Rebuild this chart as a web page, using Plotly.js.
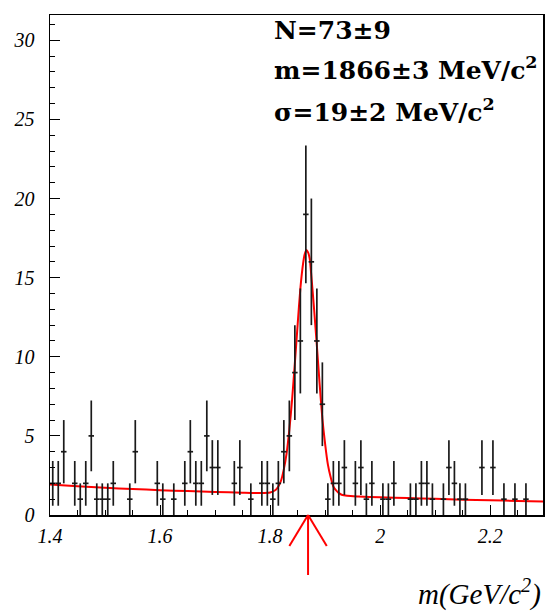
<!DOCTYPE html>
<html>
<head>
<meta charset="utf-8">
<script src="https://cdn.plot.ly/plotly-3.0.1.min.js"></script>
<style>html,body{margin:0;padding:0;background:#fff;}#chart{width:545px;height:612px;}</style>
</head>
<body>
<div id="chart"></div>
<script>
// Bin centres (GeV/c^2) of non-empty bins and their counts
const massBins = [1.405,1.415,1.425,1.445,1.455,1.465,1.475,1.485,1.495,1.505,1.515,
  1.545,1.555,1.595,1.605,1.625,1.645,1.655,1.665,1.675,1.685,1.695,1.705,
  1.735,1.745,1.765,1.785,1.795,1.805,1.815,1.825,1.835,1.845,1.855,1.865,
  1.875,1.885,1.895,1.905,1.915,1.925,1.935,1.955,1.965,1.975,1.985,
  2.005,2.015,2.025,2.055,2.065,2.075,2.085,2.095,2.115,2.125,2.135,2.145,
  2.155,2.185,2.205,2.225,2.245,2.265];
const counts = [2,2,4,2,1,2,5,1,1,1,2,
  1,4,2,1,1,2,4,2,2,5,3,3,
  2,3,1,2,2,1,2,4,5,9,11,19,
  16,11,7,1,2,2,3,2,3,1,2,
  1,1,2,1,1,2,2,1,1,3,2,1,
  1,3,3,1,1,1];
const binHalfWidth = 0.005;

// Fit curve
const fitX = [1.40,1.45,1.50,1.55,1.60,1.65,1.70,1.75,1.78,1.80,1.81,1.815,1.82,1.825,1.83,1.835,1.84,1.845,1.85,1.855,1.86,1.863,1.866,1.869,1.872,1.875,1.88,1.885,1.89,1.895,1.90,1.905,1.91,1.915,1.92,1.925,1.93,1.94,1.96,2.00,2.05,2.10,2.15,2.20,2.25,2.30];
const fitY = [1.92,1.82,1.72,1.64,1.57,1.51,1.46,1.41,1.39,1.42,1.58,1.80,2.18,2.90,3.90,5.40,7.30,9.60,12.0,14.3,15.9,16.5,16.75,16.6,16.2,15.1,13.0,10.7,8.3,6.1,4.5,3.2,2.4,1.80,1.55,1.38,1.28,1.21,1.17,1.12,1.07,1.02,0.97,0.93,0.89,0.85];

const arrowMass = 1.869;
const fitLines = ['N=73±9', 'm=1866±3 MeV/c<sup>2</sup>', 'σ=19±2 MeV/c<sup>2</sup>'];

const errY = counts.map(c => Math.sqrt(c));

const dataTrace = {
  x: massBins, y: counts, type: 'scatter', mode: 'markers',
  marker: {size: 1, color: '#111'},
  error_y: {type: 'data', array: errY, visible: true, color: '#1a1a1a', thickness: 1.7, width: 0},
  error_x: {type: 'constant', value: binHalfWidth, visible: true, color: '#1a1a1a', thickness: 1.7, width: 0},
  hoverinfo: 'x+y', showlegend: false
};
const fitTrace = {
  x: fitX, y: fitY, type: 'scatter', mode: 'lines',
  line: {color: '#ff0000', width: 2, shape: 'spline', smoothing: 0.6},
  showlegend: false
};

const tickFont = {family: 'Liberation Serif, Times New Roman, serif', size: 20, color: '#000'};
const annFont = {family: 'DejaVu Serif, serif', size: 25, color: '#000', weight: 'bold'};

const layout = {
  width: 545, height: 612,
  margin: {l: 50, r: 2, t: 15, b: 97},
  paper_bgcolor: '#fff', plot_bgcolor: '#fff',
  showlegend: false,
  xaxis: {
    range: [1.4, 2.296], tickvals: [1.4, 1.6, 1.8, 2.0, 2.2], ticktext: ['1.4','1.6','1.8','2','2.2'],
    ticks: 'inside', ticklen: 10, tickwidth: 1, tickcolor: '#000',
    minor: {dtick: 0.05, tick0: 1.4, ticks: 'inside', ticklen: 5, tickwidth: 1, tickcolor: '#000', showgrid: false},
    showline: true, linecolor: '#000', linewidth: 1.5, mirror: true,
    showgrid: false, zeroline: false,
    tickfont: Object.assign({}, tickFont, {style: 'italic'}),
    ticklabelstandoff: 2
  },
  yaxis: {
    range: [0, 31.6], tickvals: [0, 5, 10, 15, 20, 25, 30],
    ticks: 'inside', ticklen: 10, tickwidth: 1, tickcolor: '#000',
    minor: {dtick: 1, tick0: 0, ticks: 'inside', ticklen: 5, tickwidth: 1, tickcolor: '#000', showgrid: false},
    showline: true, linecolor: '#000', linewidth: 1.5, mirror: true,
    showgrid: false, zeroline: false,
    tickfont: Object.assign({}, tickFont, {style: 'italic'}),
    ticklabelstandoff: 10
  },
  annotations: [
    {xref: 'paper', yref: 'paper', x: 0.451, y: 0.970, xanchor: 'left', yanchor: 'middle', showarrow: false, text: fitLines[0], font: annFont},
    {xref: 'paper', yref: 'paper', x: 0.451, y: 0.893, xanchor: 'left', yanchor: 'middle', showarrow: false, text: fitLines[1], font: annFont},
    {xref: 'paper', yref: 'paper', x: 0.451, y: 0.809, xanchor: 'left', yanchor: 'middle', showarrow: false, text: fitLines[2], font: annFont},
    {xref: 'paper', yref: 'paper', x: 1.0, y: -0.154, xanchor: 'right', yanchor: 'middle', showarrow: false,
     text: 'm(GeV/c<sup>2</sup>)', font: {family: 'Liberation Serif, Times New Roman, serif', size: 29, style: 'italic', color: '#000'}}
  ],
  shapes: [
    {type: 'line', xref: 'x', yref: 'paper', x0: arrowMass, x1: arrowMass, y0: 0, y1: -0.12, line: {color: '#ff0000', width: 2}},
    {type: 'line', xref: 'x', yref: 'paper', x0: arrowMass, x1: arrowMass - 0.034, y0: 0, y1: -0.062, line: {color: '#ff0000', width: 2}},
    {type: 'line', xref: 'x', yref: 'paper', x0: arrowMass, x1: arrowMass + 0.034, y0: 0, y1: -0.062, line: {color: '#ff0000', width: 2}}
  ]
};

Plotly.newPlot('chart', [fitTrace, dataTrace], layout, {displayModeBar: false, staticPlot: true});
</script>
</body>
</html>
